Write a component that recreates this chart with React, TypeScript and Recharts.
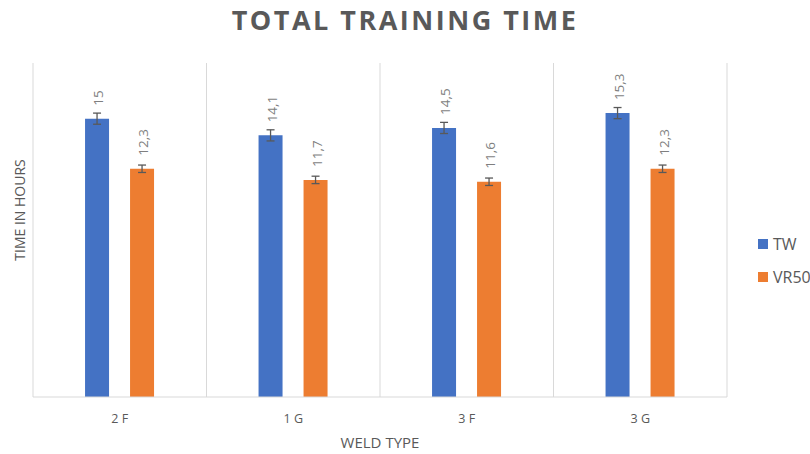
import React from 'react';
import {
  BarChart,
  Bar,
  XAxis,
  YAxis,
  CartesianGrid,
  ErrorBar,
  LabelList,
  Label,
  Legend,
} from 'recharts';

const WELD_TYPES = ['2 F', '1 G', '3 F', '3 G'];
const TW_HOURS = [15, 14.1, 14.5, 15.3];
const VR50_HOURS = [12.3, 11.7, 11.6, 12.3];
const TW_ERR = [0.3, 0.3, 0.3, 0.3];
const VR50_ERR = [0.2, 0.2, 0.2, 0.2];

const SERIES = [
  { key: 'tw', err: 'twErr', name: 'TW', color: '#4472C4' },
  { key: 'vr50', err: 'vr50Err', name: 'VR50', color: '#ED7D31' },
];

const FONT = '"Open Sans", "Segoe UI", sans-serif';
const TEXT_GREY = '#595959';
const GRID_GREY = '#D9D9D9';

const chartData = WELD_TYPES.map((weld, i) => ({
  weld,
  tw: TW_HOURS[i],
  vr50: VR50_HOURS[i],
  twErr: TW_ERR[i],
  vr50Err: VR50_ERR[i],
}));

// value labels sit above each bar, rotated, with a decimal comma
const renderValueLabel = (props: any) => {
  const { x, y, width, value } = props;
  const cx = x + width / 2 + 1;
  const cy = y - 13;
  return (
    <text
      x={cx}
      y={cy}
      transform={`rotate(-90 ${cx} ${cy})`}
      textAnchor="start"
      dominantBaseline="central"
      fill="#7F7F7F"
      fontSize={13.5}
      fontFamily={FONT}
    >
      {String(value).replace('.', ',')}
    </text>
  );
};

const XTitle = (props: any) => {
  const { viewBox } = props;
  const x = viewBox.x + viewBox.width / 2;
  const y = viewBox.y + 51;
  return (
    <text x={x} y={y} textAnchor="middle" fill={TEXT_GREY} fontSize={15} fontFamily={FONT}>
      WELD TYPE
    </text>
  );
};

const renderLegend = () => (
  <div style={{ fontFamily: FONT, color: TEXT_GREY, fontSize: 16 }}>
    {SERIES.map((s) => (
      <div key={s.key} style={{ display: 'flex', alignItems: 'center', height: 33 }}>
        <span style={{ width: 10, height: 10, background: s.color, marginRight: 5 }} />
        <span>{s.name}</span>
      </div>
    ))}
  </div>
);

export default function App() {
  return (
    <div style={{ position: 'absolute', left: 0, top: 0, width: 810, height: 454, background: '#fff' }}>
      <div
        style={{
          position: 'absolute',
          left: 0,
          top: 1,
          width: 810,
          textAlign: 'center',
          fontFamily: FONT,
          fontWeight: 700,
          fontSize: 27,
          letterSpacing: 2.5,
          color: TEXT_GREY,
        }}
      >
        TOTAL TRAINING TIME
      </div>
      <div
        style={{
          position: 'absolute',
          left: 19,
          top: 210,
          transform: 'translate(-50%, -50%) rotate(-90deg)',
          whiteSpace: 'nowrap',
          fontFamily: FONT,
          fontSize: 14,
          color: TEXT_GREY,
          zIndex: 1,
        }}
      >
        TIME IN HOURS
      </div>
      <BarChart
        width={810}
        height={454}
        data={chartData}
        margin={{ top: 63, right: 83, bottom: 27, left: 33 }}
        barCategoryGap="30%"
        barGap={21}
      >
        <CartesianGrid
          horizontal={false}
          stroke={GRID_GREY}
          verticalCoordinatesGenerator={({ offset }: any) =>
            [0, 1, 2, 3, 4].map((i) => offset.left + (i * offset.width) / 4)
          }
        />
        <XAxis
          dataKey="weld"
          height={30}
          axisLine={{ stroke: GRID_GREY }}
          tickLine={false}
          tickMargin={11}
          tick={{ fill: TEXT_GREY, fontSize: 12.5, fontFamily: FONT }}
        >
          <Label content={<XTitle />} />
        </XAxis>
        <YAxis width={0} domain={[0, 18]} tick={false} axisLine={false} tickLine={false} />
        <Legend
          layout="vertical"
          align="center"
          verticalAlign="middle"
          content={renderLegend}
          wrapperStyle={{ left: 758, top: 227, width: 60 }}
        />
        {SERIES.map((s) => (
          <Bar key={s.key} dataKey={s.key} name={s.name} fill={s.color} isAnimationActive={false}>
            <ErrorBar dataKey={s.err} width={4} stroke="#595959" strokeWidth={1.3} direction="y" isAnimationActive={false} />
            <LabelList dataKey={s.key} content={renderValueLabel} />
          </Bar>
        ))}
      </BarChart>
    </div>
  );
}
